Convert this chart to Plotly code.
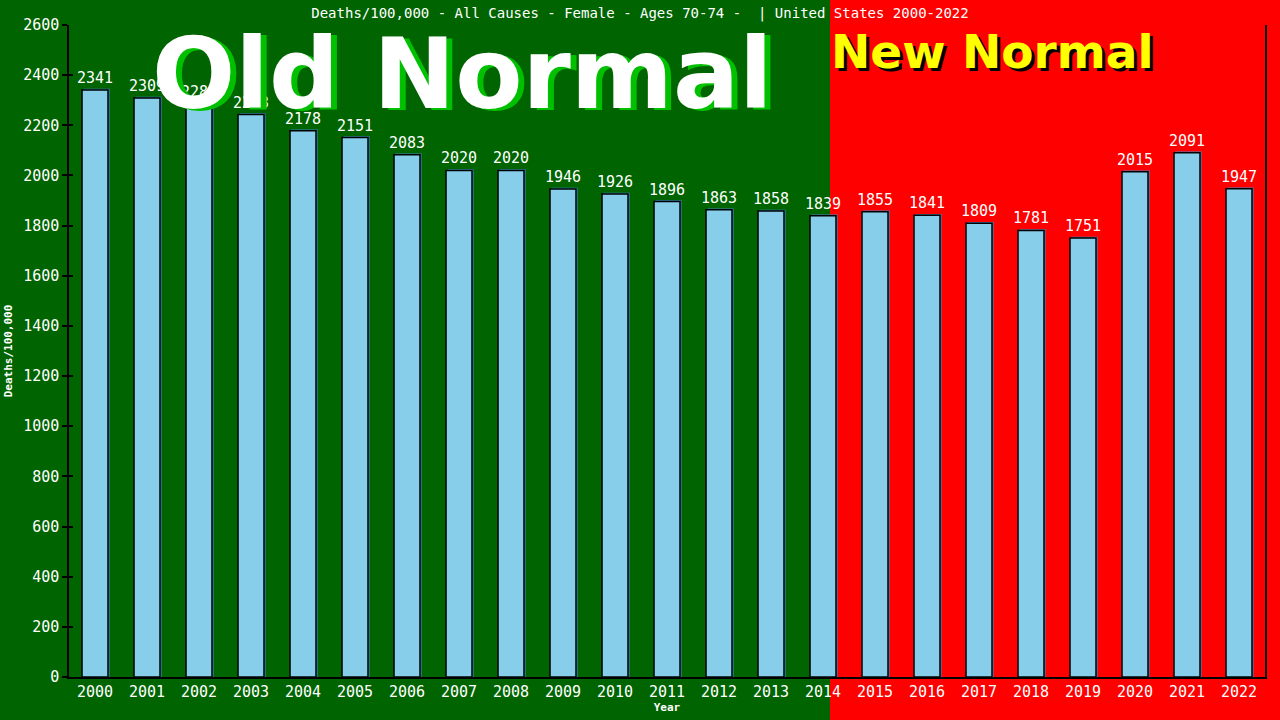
import plotly.graph_objects as go

# data
years = [str(y) for y in range(2000, 2023)]
deaths = [2341, 2309, 2285, 2243, 2178, 2151, 2083, 2020, 2020, 1946, 1926, 1896,
          1863, 1858, 1839, 1855, 1841, 1809, 1781, 1751, 2015, 2091, 1947]
y_ticks = list(range(0, 2601, 200))

title_text = "Deaths/100,000 - All Causes - Female - Ages 70-74 -  | United States 2000-2022"
mono = "DejaVu Sans Mono"

fig = go.Figure()

# blue shadow behind each bar
fig.add_trace(go.Bar(
    x=years, y=[v + 5 for v in deaths],
    width=0.5, offset=-0.22,
    marker=dict(color="#3f86c6", line=dict(width=0)),
    hoverinfo="skip", showlegend=False,
))

# main bars
fig.add_trace(go.Bar(
    x=years, y=deaths,
    width=0.5, offset=-0.25,
    marker=dict(color="#87ceeb", line=dict(color="black", width=1.5)),
    text=[str(v) for v in deaths], textposition="outside", constraintext="none",
    textfont=dict(family=mono, size=15, color="white"),
    cliponaxis=False, showlegend=False,
))

# red "new normal" background on the right
fig.add_shape(type="rect", xref="paper", yref="paper",
              x0=0.6363, x1=1.2, y0=-0.2, y1=1.2,
              fillcolor="#ff0000", line=dict(width=0), layer="below")

# big labels
fig.add_annotation(text="<b>Old Normal</b>", xref="paper", yref="paper",
                   x=0.329, y=1.015, yanchor="top", xanchor="center", showarrow=False,
                   xshift=6, yshift=-2,
                   font=dict(family="DejaVu Sans", size=98, color="#00c000"))
fig.add_annotation(text="<b>Old Normal</b>", xref="paper", yref="paper",
                   x=0.329, y=1.015, yanchor="top", xanchor="center", showarrow=False,
                   font=dict(family="DejaVu Sans", size=98, color="white"))
fig.add_annotation(text="<b>New Normal</b>", xref="paper", yref="paper",
                   x=0.772, y=1.004, yanchor="top", xanchor="center", showarrow=False,
                   xshift=3, yshift=-3,
                   font=dict(family="DejaVu Sans", size=47, color="black"))
fig.add_annotation(text="<b>New Normal</b>", xref="paper", yref="paper",
                   x=0.772, y=1.004, yanchor="top", xanchor="center", showarrow=False,
                   font=dict(family="DejaVu Sans", size=47, color="#ffff00"))

# second y axis just for the inner half of the ticks
fig.add_trace(go.Scatter(x=[years[0]], y=[0], yaxis="y2", mode="markers",
                         marker=dict(opacity=0, size=1), hoverinfo="skip", showlegend=False))

fig.update_layout(
    width=1280, height=720,
    margin=dict(l=69, r=15, t=25, b=43, autoexpand=False),
    paper_bgcolor="#006400", plot_bgcolor="rgba(0,0,0,0)",
    barmode="overlay",
    title=dict(text=title_text, x=0.5, xanchor="center", y=1, yanchor="top",
               pad=dict(t=8), automargin=False,
               font=dict(family=mono, size=14, color="white")),
    xaxis=dict(type="category", range=[-0.5, 22.5], showline=True, linecolor="black",
               linewidth=1.5, automargin=False,
               ticks="", tickfont=dict(family=mono, size=15, color="white"),
               title=dict(text="<b>Year</b>", font=dict(family=mono, size=11, color="white"),
                          standoff=2),
               showgrid=False, zeroline=False),
    yaxis=dict(range=[0, 2600], tickvals=y_ticks, showline=True, mirror=True,
               linecolor="black", linewidth=1.5, ticks="outside", ticklen=5,
               tickcolor="black", tickwidth=1.5, automargin=False,
               tickfont=dict(family=mono, size=15, color="white"),
               title=dict(text="<b>Deaths/100,000</b>",
                          font=dict(family=mono, size=11, color="white"), standoff=8),
               showgrid=False, zeroline=False),
    yaxis2=dict(range=[0, 2600], tickvals=y_ticks, overlaying="y", side="left",
                ticks="inside", ticklen=4, tickcolor="black", tickwidth=1.5,
                showticklabels=False, showgrid=False, zeroline=False, showline=False),
)

# page has a default 8px body margin; drop it so the figure fills the window
fig.write_html("out.html", config={"displayModeBar": False},
               post_script="document.body.style.margin='0';")
